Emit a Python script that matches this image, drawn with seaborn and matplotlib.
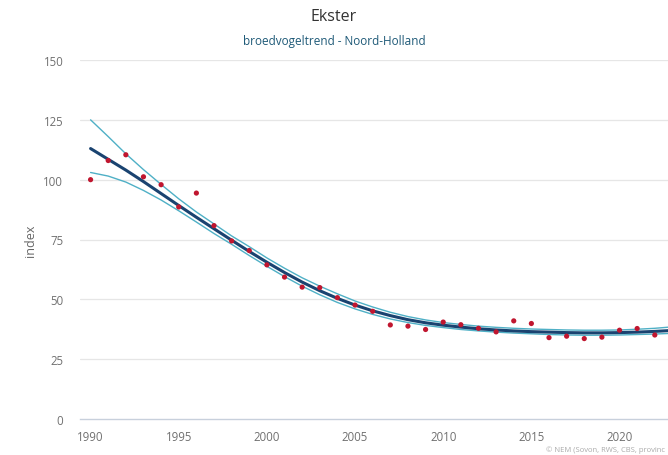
import matplotlib
matplotlib.use("Agg")
import matplotlib.pyplot as plt
import seaborn as sns
import pandas as pd

# data
years = list(range(1990, 2023))
index_values = [100, 108, 110.4, 101.2, 97.9, 88.6, 94.4, 80.8, 74.4, 70.4,
                64.4, 59.3, 55.1, 54.9, 50.7, 47.6, 45.0, 39.3, 38.8, 37.4,
                40.5, 39.4, 37.9, 36.4, 41.0, 39.9, 34.0, 34.6, 33.6, 34.2,
                37.1, 37.8, 35.1]

trend_years = list(range(1990, 2024))
trend = [113, 108.5, 104, 99.2, 94.2, 89.2, 84.3, 79.5, 74.7, 70.0,
         65.5, 61.2, 57.2, 53.6, 50.4, 47.6, 45.2, 43.2, 41.5, 40.2,
         39.2, 38.4, 37.7, 37.2, 36.8, 36.5, 36.3, 36.1, 36.0, 36.0,
         36.1, 36.3, 36.6, 37.0]
upper = [125, 118, 110.8, 104.2, 98.0, 92.0, 86.5, 81.5, 76.5, 72.0,
         67.3, 63.0, 59.0, 55.5, 52.3, 49.3, 46.8, 44.6, 42.8, 41.4,
         40.3, 39.5, 38.8, 38.3, 37.9, 37.6, 37.4, 37.2, 37.1, 37.1,
         37.2, 37.5, 37.9, 38.5]
lower = [103, 101.5, 99.0, 95.5, 91.5, 87.0, 82.3, 77.5, 73.0, 68.3,
         63.8, 59.5, 55.5, 51.9, 48.7, 46.0, 43.7, 41.8, 40.3, 39.1,
         38.2, 37.4, 36.8, 36.3, 35.9, 35.6, 35.3, 35.1, 35.0, 35.0,
         35.1, 35.3, 35.5, 35.8]

x_ticks = [1990, 1995, 2000, 2005, 2010, 2015, 2020]
y_ticks = [0, 25, 50, 75, 100, 125, 150]

points = pd.DataFrame({"jaar": years, "index": index_values})
lines = pd.DataFrame({"jaar": trend_years, "trend": trend,
                      "boven": upper, "onder": lower})

sns.set_style("white")
plt.rcParams["font.family"] = ["Open Sans", "DejaVu Sans"]

fig = plt.figure(figsize=(6.68, 4.56), dpi=100)
# plot area runs past the right edge, as in the cropped original
ax = fig.add_axes([80 / 668, 36 / 456, 600 / 668, 359 / 456])

for y in y_ticks[1:]:
    ax.axhline(y, color="#e6e6e6", lw=0.9, zorder=0)

sns.lineplot(data=lines, x="jaar", y="boven", ax=ax, color="#4fb0c6", lw=1.0)
sns.lineplot(data=lines, x="jaar", y="onder", ax=ax, color="#4fb0c6", lw=1.0)
sns.lineplot(data=lines, x="jaar", y="trend", ax=ax, color="#1a4370", lw=2.2)
sns.scatterplot(data=points, x="jaar", y="index", ax=ax, color="#c0162f",
                s=14, edgecolor="none", zorder=5)

ax.set_xlim(1989.4, 2023.43)
ax.set_ylim(0, 150)
ax.set_xticks(x_ticks)
ax.set_yticks(y_ticks)
ax.tick_params(axis="both", labelsize=8.3, length=0)
ax.tick_params(axis="x", length=5, color="#cccccc", pad=3)
for lab in ax.get_xticklabels() + ax.get_yticklabels():
    lab.set_color("#707070")
ax.tick_params(axis="y", pad=12)

for side in ["top", "right", "left"]:
    ax.spines[side].set_visible(False)
ax.spines["bottom"].set_color("#c8d0dc")
ax.spines["bottom"].set_linewidth(1)

ax.set_xlabel("")
ax.set_ylabel("index", fontsize=9, color="#666666", labelpad=5)

fig.text(0.5, 1 - 17 / 456, "Ekster", ha="center", va="center",
         fontsize=11.5, color="#333333")
fig.text(0.5, 1 - 41 / 456, "broedvogeltrend - Noord-Holland", ha="center",
         va="center", fontsize=8.5, color="#1f5a78")
fig.text(1 - 3 / 668, 1 - 450 / 456, "\u00a9 NEM (Sovon, RWS, CBS, provinc",
         ha="right", va="center", fontsize=5.5, color="#aaaaaa")

fig.savefig("out.png", dpi=100)
